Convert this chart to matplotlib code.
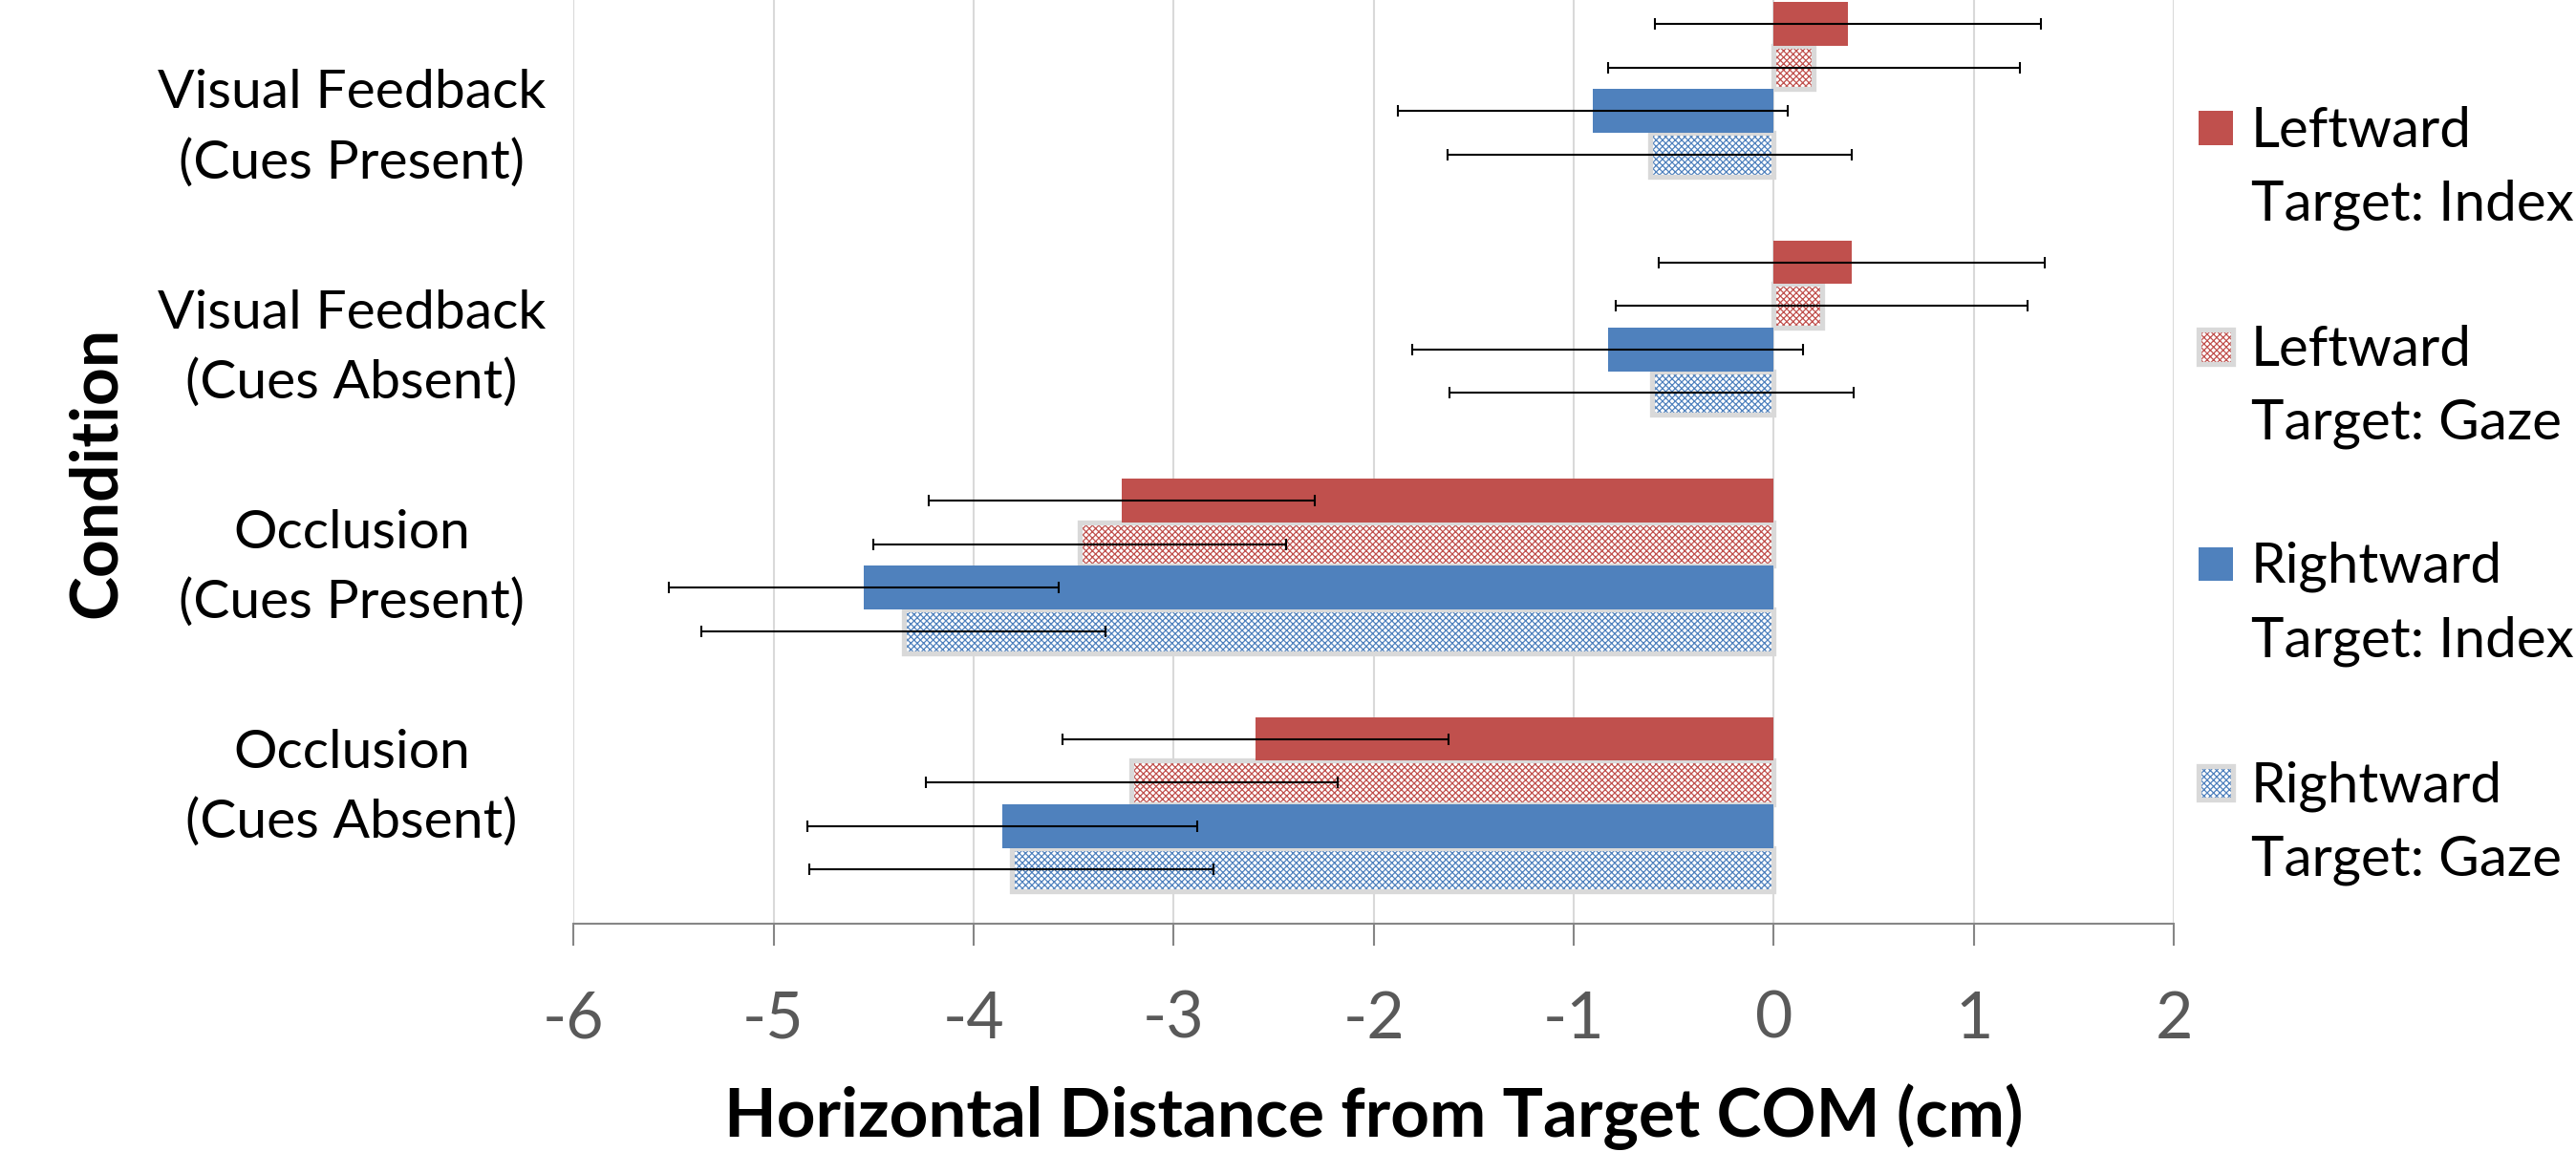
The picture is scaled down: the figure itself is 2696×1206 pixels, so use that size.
import numpy as np
import matplotlib
matplotlib.use("Agg")
import matplotlib.pyplot as plt
from matplotlib.patches import Rectangle

plt.rcParams['font.family'] = ['Lato', 'DejaVu Sans']
plt.rcParams['axes.unicode_minus'] = False
plt.rcParams['hatch.linewidth'] = 0.9

# ---- data ----
conditions = ["Visual Feedback\n(Cues Present)", "Visual Feedback\n(Cues Absent)",
              "Occlusion\n(Cues Present)", "Occlusion\n(Cues Absent)"]
series_names = ["Leftward\nTarget: Index", "Leftward\nTarget: Gaze",
                "Rightward\nTarget: Index", "Rightward\nTarget: Gaze"]

left_index = [0.37, 0.39, -3.26, -2.59]
left_gaze = [0.20, 0.24, -3.47, -3.21]
right_index = [-0.905, -0.83, -4.55, -3.855]
right_gaze = [-0.62, -0.61, -4.35, -3.81]

left_index_err = [0.965, 0.965, 0.965, 0.965]
left_gaze_err = [1.03, 1.03, 1.03, 1.03]
right_index_err = [0.975, 0.975, 0.975, 0.975]
right_gaze_err = [1.01, 1.01, 1.01, 1.01]

x_ticks = [-6, -5, -4, -3, -2, -1, 0, 1, 2]

values = [left_index, left_gaze, right_index, right_gaze]
errors = [left_index_err, left_gaze_err, right_index_err, right_gaze_err]

# ---- style ----
RED = '#C0504D'
BLUE = '#4F81BD'
BORDER = '#D9D9D9'
AXISGRAY = '#868686'
TICKGRAY = '#595959'
styles = [(RED, False), (RED, True), (BLUE, False), (BLUE, True)]
HATCH = 'xxxxx'
bar_h = 0.1826

fig = plt.figure(figsize=(26.96, 12.06), dpi=100)
ax = fig.add_axes([0.2226, 0.1984, 0.6213, 0.8016])

y = np.arange(len(conditions))
for i, (vals, errs, (col, hatched)) in enumerate(zip(values, errors, styles)):
    ypos = y + (i - 1.5) * bar_h
    if hatched:
        ax.barh(ypos, vals, height=bar_h, color='white', edgecolor=col,
                linewidth=0, hatch=HATCH, zorder=2)
        ax.barh(ypos, vals, height=bar_h, color='none', edgecolor=BORDER,
                linewidth=3.8, zorder=2.1)
    else:
        ax.barh(ypos, vals, height=bar_h, color=col, edgecolor='none', zorder=2.2)
    ax.errorbar(vals, ypos, xerr=errs, fmt='none', ecolor='black',
                elinewidth=1.5, capsize=4.3, capthick=1.5, zorder=3)

ax.set_xlim(-6, 2)
ax.set_ylim(3.5, -0.3745)
ax.set_xticks(x_ticks)
ax.set_xticklabels([str(t) for t in x_ticks])

# category labels sit slightly off the group centres in the original
label_pos = np.linspace(0.102, 2.869, len(conditions))
ax.set_yticks(label_pos)
ax.set_yticklabels(conditions, ha='center', multialignment='center',
                   linespacing=1.5, fontsize=41)

ax.set_axisbelow(True)
ax.xaxis.grid(True, color=BORDER, linewidth=1.5)
for s in ['left', 'right', 'top']:
    ax.spines[s].set_visible(False)
ax.spines['bottom'].set_color(AXISGRAY)
ax.spines['bottom'].set_linewidth(1.5)
ax.tick_params(axis='x', length=16.5, width=1.5, color=AXISGRAY,
               labelsize=49, labelcolor=TICKGRAY, pad=34)
ax.tick_params(axis='y', length=0, pad=167, labelcolor='black')

fig.text(1437.5 / 2696, 1 - 1190 / 1206, "Horizontal Distance from Target COM (cm)",
         ha='center', va='baseline', fontsize=51, fontweight='bold')
fig.text(101 / 2696, 1 - 494 / 1206, "Condition", rotation=90,
         ha='center', va='center', fontsize=50, fontweight='bold')

# legend, drawn by hand so the swatch lines up with the first text line
W, H = fig.bbox.width, fig.bbox.height
legend_y = [134, 363, 590, 819]
for (col, hatched), name, cy in zip(styles, series_names, legend_y):
    rx, ry, rw, rh = 2301 / W, 1 - (cy + 17.5) / H, 36 / W, 35 / H
    if hatched:
        fig.add_artist(Rectangle((rx, ry), rw, rh, transform=fig.transFigure,
                                 facecolor='white', edgecolor=col, linewidth=0, hatch=HATCH))
        fig.add_artist(Rectangle((rx, ry), rw, rh, transform=fig.transFigure,
                                 facecolor='none', edgecolor=BORDER, linewidth=3.8))
    else:
        fig.add_artist(Rectangle((rx, ry), rw, rh, transform=fig.transFigure,
                                 facecolor=col, edgecolor='none'))
    fig.text(2356 / W, 1 - (cy - 23) / H, name, ha='left', va='top',
             fontsize=42, linespacing=1.55)

fig.savefig('out.png', dpi=100)
